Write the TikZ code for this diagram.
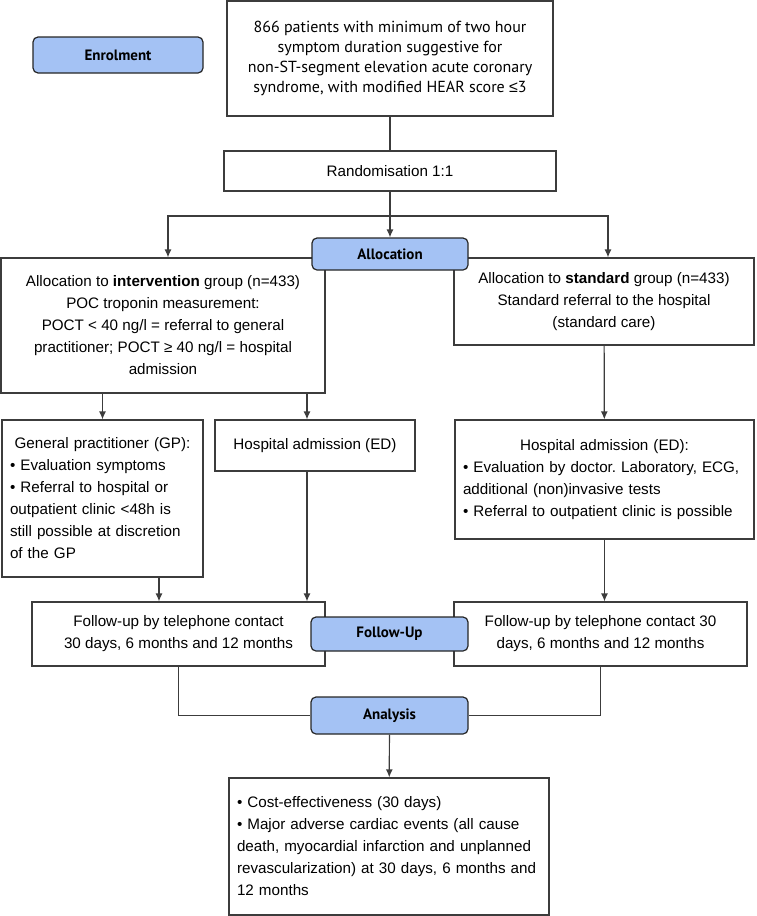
\documentclass[tikz,border=0pt]{standalone}
\usepackage{fontspec}
\setmainfont{Liberation Sans}
\newfontfamily\tagfont{PT Sans}
\newfontfamily\plainfont{Liberation Sans}
\usetikzlibrary{arrows.meta}
\definecolor{tagblue}{HTML}{A4C2F4}
\definecolor{linegray}{HTML}{3C3C3C}
\frenchspacing
\begin{document}
\begin{tikzpicture}[x=1pt,y=-1pt,
        box/.style={draw=linegray,line width=1.2pt,inner sep=0pt,align=center,
            font=\fontsize{15.2}{22}\selectfont},
        listbox/.style={box,align=left,inner xsep=8pt},
        tag/.style={draw=black!85,line width=1.2pt,rounded corners=5pt,fill=tagblue,
            inner sep=0pt,font=\tagfont\bfseries\fontsize{15}{17}\selectfont},
        line/.style={draw=linegray,line width=1.2pt},
        arr/.style={line,-{Latex[length=8pt,width=7pt]}}]
                \useasboundingbox (0,0) rectangle (757,916);

                \node[tag,minimum width=170pt,minimum height=36pt] (enrol) at (118,55) {Enrolment};
                \node[box,font=\tagfont\fontsize{16}{20}\selectfont,minimum width=326pt,minimum height=115pt] (pat) at (390,58.5)
                    {866 patients with minimum of two hour\\symptom duration suggestive for\\non-ST-segment elevation acute coronary\\syndrome, with modified HEAR score {\plainfont ≤}3};
                \node[box,minimum width=332pt,minimum height=40pt] (rand) at (390,171) {Randomisation 1:1};

                \node[box,minimum width=324pt,minimum height=135pt] (interv) at (163,325.5)
                    {Allocation to \textbf{intervention} group (n=433)\\POC troponin measurement:\\POCT < 40 ng/l = referral to general\\practitioner; POCT ≥ 40 ng/l = hospital\\admission};
                \node[box,minimum width=300pt,minimum height=87pt] (stand) at (604,301.5)
                    {Allocation to \textbf{standard} group (n=433)\\Standard referral to the hospital\\(standard care)};

                \node[listbox,text width=185pt,minimum height=157pt] (gp) at (102.5,498.5)
                    {\makebox[\linewidth]{General practitioner (GP):}\\• Evaluation symptoms\\• Referral to hospital or\\outpatient clinic <48h is\\still possible at discretion\\of the GP};
                \node[box,minimum width=200pt,minimum height=51pt] (hosp) at (315,445.5) {Hospital admission (ED)};
                \node[listbox,text width=283pt,minimum height=119pt] (ed) at (604.5,479.5)
                    {\makebox[\linewidth]{Hospital admission (ED):}\\• Evaluation by doctor. Laboratory, ECG,\\additional (non)invasive tests\\• Referral to outpatient clinic is possible};

                \node[box,minimum width=293pt,minimum height=64pt] (fuint) at (178.5,634)
                    {Follow-up by telephone contact\\30 days, 6 months and 12 months};
                \node[box,minimum width=293pt,minimum height=64pt] (fustd) at (600.5,634)
                    {Follow-up by telephone contact 30\\days, 6 months and 12 months};
                \node[listbox,text width=304pt,minimum height=137pt] (outc) at (389,846.5)
                    {• Cost-effectiveness (30 days)\\• Major adverse cardiac events (all cause\\death, myocardial infarction and unplanned\\revascularization) at 30 days, 6 months and\\12 months};

                \node[tag,minimum width=156pt,minimum height=32pt] (alloc) at (390,254) {Allocation};
                \node[tag,minimum width=157pt,minimum height=34pt] (fulab) at (389.5,634) {Follow-Up};
                \node[tag,minimum width=157pt,minimum height=37pt] (anal) at (389.5,715.5) {Analysis};

                \coordinate (split) at (390,216);
                \coordinate (edin) at ([xshift=-8pt]hosp.north);
                \coordinate (gpout) at ([xshift=56.5pt]gp.south);

                \draw[line] (pat) -- (rand);
                \draw[arr] (rand) -- (alloc);
                \draw[arr] (split) -| ([xshift=5pt]interv.north);
                \draw[arr] (split) -| ([xshift=4pt]stand.north);
                \draw[arr] (gp.north |- interv.south) -- (gp.north);
                \draw[arr] (edin |- interv.south) -- (edin);
                \draw[arr] (stand) -- (ed);
                \draw[arr] (gpout) -- (gpout |- fuint.north);
                \draw[arr] (edin |- hosp.south) -- (edin |- fuint.north);
                \draw[arr] (ed) -- (ed.south |- fustd.north);
                \draw[line] (fuint) |- (anal);
                \draw[line] (fustd) |- (anal);
                \draw[arr] (anal) -- (outc);
            \end{tikzpicture}
\end{document}
